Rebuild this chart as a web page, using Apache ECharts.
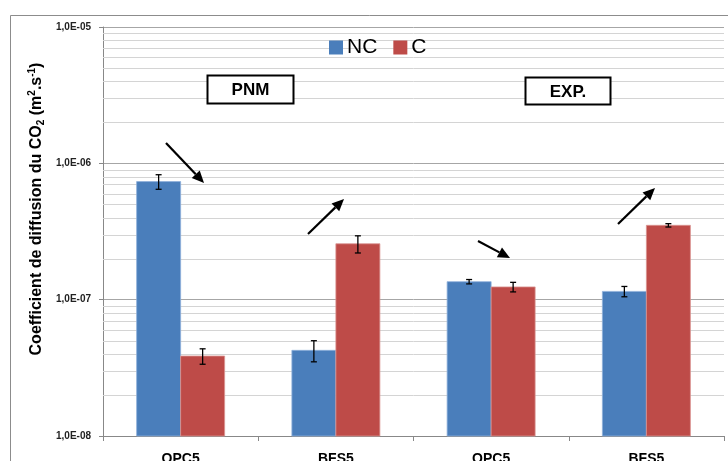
<!DOCTYPE html>
<html>
<head>
<meta charset="utf-8">
<script src="https://cdn.jsdelivr.net/npm/echarts@6/dist/echarts.min.js"></script>
<style>html,body{margin:0;padding:0;background:#fff}#c{width:728px;height:461px}</style>
</head>
<body>
<div id="c"></div>
<script>
const categories = ['OPC5', 'BFS5', 'OPC5 ', 'BFS5 '];
const seriesNames = ['NC', 'C'];
const ncValues = [7.35e-7, 4.25e-8, 1.355e-7, 1.15e-7];
const ncErrors = [0.9e-7, 0.75e-8, 0.05e-7, 0.1e-7];
const cValues = [3.86e-8, 2.57e-7, 1.24e-7, 3.51e-7];
const cErrors = [0.5e-8, 0.37e-7, 0.1e-7, 0.1e-7];
const yTickLabels = {'-8': '1,0E-08', '-7': '1,0E-07', '-6': '1,0E-06', '-5': '1,0E-05'};
const yMin = 1e-8, yMax = 1e-5;
const minorGridValues = [];
[1e-8, 1e-7, 1e-6].forEach(d => { for (let k = 2; k <= 9; k++) minorGridValues.push(k * d); });

const BLUE = '#4a7ebb', RED = '#be4b48';
const BAR_W = 44;
const chart = echarts.init(document.getElementById('c'));

// side: -1 = left of the category centre, +1 = right of it
function barSeries(name, values, color, border, side) {
  return {
    name: name, type: 'custom', z: 3,
    itemStyle: {color: color},
    data: values.map((v, i) => [i, v]),
    renderItem: function (params, api) {
      const i = api.value(0), v = api.value(1);
      const top = api.coord([i, v]);
      const base = api.coord([i, yMin]);
      const x0 = side < 0 ? top[0] - BAR_W : top[0];
      return {type: 'rect', shape: {x: x0, y: top[1], width: BAR_W, height: base[1] - top[1]},
        style: {fill: color, stroke: border, lineWidth: 0.8}};
    }
  };
}

function errSeries(values, errors, side) {
  return {
    type: 'custom', z: 5, silent: true,
    data: values.map((v, i) => [i, v, errors[i]]),
    renderItem: function (params, api) {
      const i = api.value(0), v = api.value(1), e = api.value(2);
      const hi = api.coord([i, v + e]);
      const lo = api.coord([i, v - e]);
      const x = hi[0] + side * BAR_W / 2;
      const st = {stroke: '#000', lineWidth: 1.3};
      return {type: 'group', children: [
        {type: 'line', shape: {x1: x, y1: hi[1], x2: x, y2: lo[1]}, style: st},
        {type: 'line', shape: {x1: x - 3, y1: hi[1], x2: x + 3, y2: hi[1]}, style: st},
        {type: 'line', shape: {x1: x - 3, y1: lo[1], x2: x + 3, y2: lo[1]}, style: st}
      ]};
    }
  };
}

function arrow(x1, y1, x2, y2) {
  const a = Math.atan2(y2 - y1, x2 - x1), L = 12, W = 5.5;
  const bx = x2 - L * Math.cos(a), by = y2 - L * Math.sin(a);
  const px = -Math.sin(a), py = Math.cos(a);
  return [
    {type: 'line', shape: {x1: x1, y1: y1, x2: bx, y2: by}, style: {stroke: '#000', lineWidth: 2.2}, z: 20},
    {type: 'polygon', shape: {points: [[x2, y2], [bx + px * W, by + py * W], [bx - px * W, by - py * W]]}, style: {fill: '#000'}, z: 20}
  ];
}

const graphics = [
  {type: 'rect', shape: {x: 10.5, y: 15.5, width: 740, height: 460}, style: {fill: null, stroke: '#8c8c8c', lineWidth: 1}, z: 0, silent: true},
  {type: 'rect', shape: {x: 207.5, y: 75.5, width: 86, height: 28}, style: {fill: '#fff', stroke: '#000', lineWidth: 2}, z: 20},
  {type: 'text', x: 250.5, y: 90, style: {text: 'PNM', font: 'bold 17px "Liberation Sans", sans-serif', fill: '#000', align: 'center', verticalAlign: 'middle'}, z: 21},
  {type: 'rect', shape: {x: 525.5, y: 77.5, width: 85, height: 27}, style: {fill: '#fff', stroke: '#000', lineWidth: 2}, z: 20},
  {type: 'text', x: 568, y: 92, style: {text: 'EXP.', font: 'bold 17px "Liberation Sans", sans-serif', fill: '#000', align: 'center', verticalAlign: 'middle'}, z: 21},
  {type: 'text', x: 37, y: 209, rotation: Math.PI / 2, z: 20,
    style: {
      text: '{t|Coefficient de diffusion du CO}{sub|2}{t| (m}{sup|2}{t|.s}{sup|-1}{t|)}',
      align: 'center', verticalAlign: 'middle',
      rich: {
        t: {font: 'bold 16px "Liberation Sans", sans-serif', fill: '#000', verticalAlign: 'middle'},
        sub: {font: 'bold 10px "Liberation Sans", sans-serif', fill: '#000', padding: [9, 0, 0, 0]},
        sup: {font: 'bold 10px "Liberation Sans", sans-serif', fill: '#000', padding: [0, 0, 9, 0]}
      }
    }
  }
].concat(arrow(166, 143, 204, 183), arrow(308, 234, 344, 199), arrow(478, 241, 510, 258), arrow(618, 224, 655, 188));

chart.setOption({
  animation: false,
  backgroundColor: '#fff',
  grid: {left: 103, right: 4, top: 27, bottom: 25, containLabel: false, outerBoundsMode: 'none'},
  legend: {
    data: seriesNames.map(n => ({name: n, icon: 'rect', itemStyle: {borderWidth: 0}})),
    left: 324, top: 32, itemWidth: 14, itemHeight: 14, itemGap: 16,
    textStyle: {fontSize: 21, color: '#000', fontFamily: '"Liberation Sans", sans-serif', padding: [0, 0, 0, -1]}
  },
  xAxis: {
    type: 'category', data: categories,
    axisLine: {lineStyle: {color: '#888', width: 1}},
    axisTick: {show: true, length: 5, lineStyle: {color: '#888'}},
    axisLabel: {margin: 16, fontSize: 14, fontWeight: 'bold', color: '#000', fontFamily: '"Liberation Sans", sans-serif', formatter: v => v.trim()}
  },
  yAxis: {
    type: 'log', logBase: 10, min: yMin, max: yMax,
    axisLine: {show: true, lineStyle: {color: '#888'}},
    axisTick: {show: true, length: 4, lineStyle: {color: '#888'}},
    axisLabel: {margin: 12, fontSize: 10, fontWeight: 'bold', color: '#222', fontFamily: '"Liberation Sans", sans-serif',
      formatter: v => yTickLabels[String(Math.round(Math.log10(v)))] || ''},
    splitLine: {show: true, lineStyle: {color: '#a6a6a6', width: 1}}
  },
  graphic: graphics,
  series: [
    {
      type: 'custom', z: 1, silent: true,
      data: minorGridValues.map(v => [0, v]),
      renderItem: function (params, api) {
        const y = Math.round(api.coord([0, api.value(1)])[1]) + 0.5;
        const cs = params.coordSys;
        return {type: 'line', shape: {x1: cs.x, y1: y, x2: cs.x + cs.width, y2: y},
          style: {stroke: '#d4d4d4', lineWidth: 1}};
      }
    },
    barSeries('NC', ncValues, BLUE, '#8fb0da', -1),
    barSeries('C', cValues, RED, '#d99492', 1),
    errSeries(ncValues, ncErrors, -1),
    errSeries(cValues, cErrors, 1)
  ]
});
</script>
</body>
</html>
